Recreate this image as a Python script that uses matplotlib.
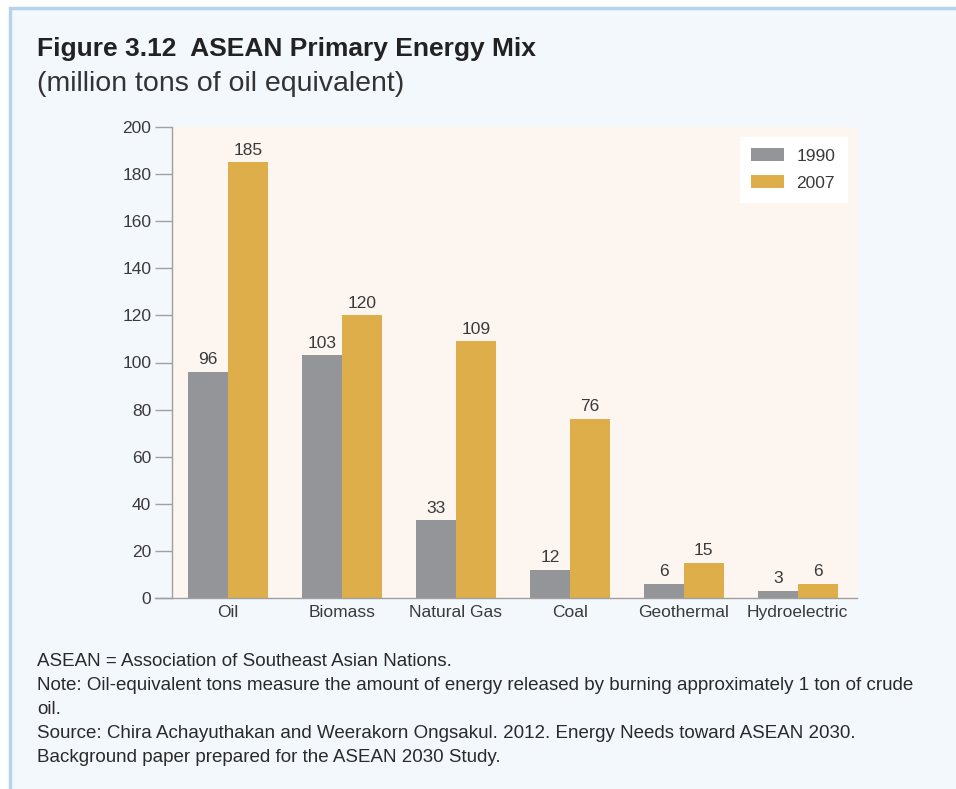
import matplotlib.pyplot as plt
import numpy as np
from matplotlib.patches import Rectangle

# Primary energy supply by source (million tons of oil equivalent)
categories = ["Oil", "Biomass", "Natural Gas", "Coal", "Geothermal", "Hydroelectric"]
values_1990 = [96, 103, 33, 12, 6, 3]
values_2007 = [185, 120, 109, 76, 15, 6]
years = ["1990", "2007"]
yticks = [0, 20, 40, 60, 80, 100, 120, 140, 160, 180, 200]

c_1990 = "#939598"
c_2007 = "#deae4a"
txt = "#3a3a3a"
sans = ["Liberation Sans", "DejaVu Sans"]
fs = 12.5

fig = plt.figure(figsize=(9.56, 7.89), dpi=100)
fig.patch.set_facecolor("white")

# panel background with the blue frame on top and left
panel = Rectangle((10 / 956, -0.05), 1.05, 1 - 8 / 789 + 0.05, transform=fig.transFigure,
                  facecolor="#f3f8fd", edgecolor="#b5d3ec", linewidth=2.5, zorder=-10)
fig.patches.append(panel)

fig.text(37 / 956, 1 - 49 / 789, "Figure 3.12  ASEAN Primary Energy Mix", family=sans,
         weight="bold", fontsize=19, color="#222222", va="center", ha="left")
fig.text(37 / 956, 1 - 84 / 789, "(million tons of oil equivalent)", family=sans,
         fontsize=20.5, color="#333333", va="center", ha="left")

ax = fig.add_axes([172 / 956, 1 - 598 / 789, 685 / 956, 471 / 789], zorder=2)
ax.set_facecolor("#fdf5f0")

x = np.arange(len(categories))
w = 0.35
b1 = ax.bar(x - w / 2, values_1990, w, color=c_1990, label=years[0], zorder=2)
b2 = ax.bar(x + w / 2, values_2007, w, color=c_2007, label=years[1], zorder=2)

for bars, vals in ((b1, values_1990), (b2, values_2007)):
    for rect, v in zip(bars, vals):
        ax.text(rect.get_x() + rect.get_width() / 2, v + 2, str(v), ha="center", va="bottom",
                fontsize=fs, color=txt, family=sans)

ax.set_xlim(-0.49, 5.52)
ax.set_ylim(0, 200)
ax.set_yticks(yticks)
ax.set_xticks(x)
ax.set_xticklabels(categories, family=sans, fontsize=fs, color=txt)
for lab in ax.get_yticklabels():
    lab.set_family(sans)
ax.tick_params(axis="y", length=12, width=1, color="#a0a0a0", labelsize=fs, labelcolor=txt, pad=3)
ax.tick_params(axis="x", length=0, pad=5)

for s in ("top", "right"):
    ax.spines[s].set_visible(False)
ax.spines["left"].set_color("#a0a0a0")
ax.spines["bottom"].set_color("#a0a0a0")
ax.spines["left"].set_linewidth(1)
ax.spines["bottom"].set_linewidth(1)
ax.spines["bottom"].set_bounds(-0.49 - 17 / 114, 5.52)
ax.spines["bottom"].set_clip_on(False)

leg = ax.legend(loc="upper right", bbox_to_anchor=(0.985, 0.979), frameon=True, fancybox=False,
                edgecolor="white", facecolor="white", framealpha=1, prop={"family": sans, "size": fs},
                handlelength=1.85, handleheight=0.8, handletextpad=0.75, labelspacing=0.65,
                borderpad=0.65, borderaxespad=0)
for t in leg.get_texts():
    t.set_color(txt)

notes = [
    "ASEAN = Association of Southeast Asian Nations.",
    "Note: Oil-equivalent tons measure the amount of energy released by burning approximately 1 ton of crude",
    "oil.",
    "Source: Chira Achayuthakan and Weerakorn Ongsakul. 2012. Energy Needs toward ASEAN 2030.",
    "Background paper prepared for the ASEAN 2030 Study.",
]
for i, line in enumerate(notes):
    fig.text(37 / 956, 1 - (662 + 24 * i) / 789, line, family=sans, fontsize=13.5,
             color="#2a2a2a", va="center", ha="left")

fig.savefig("out.png", dpi=100)
